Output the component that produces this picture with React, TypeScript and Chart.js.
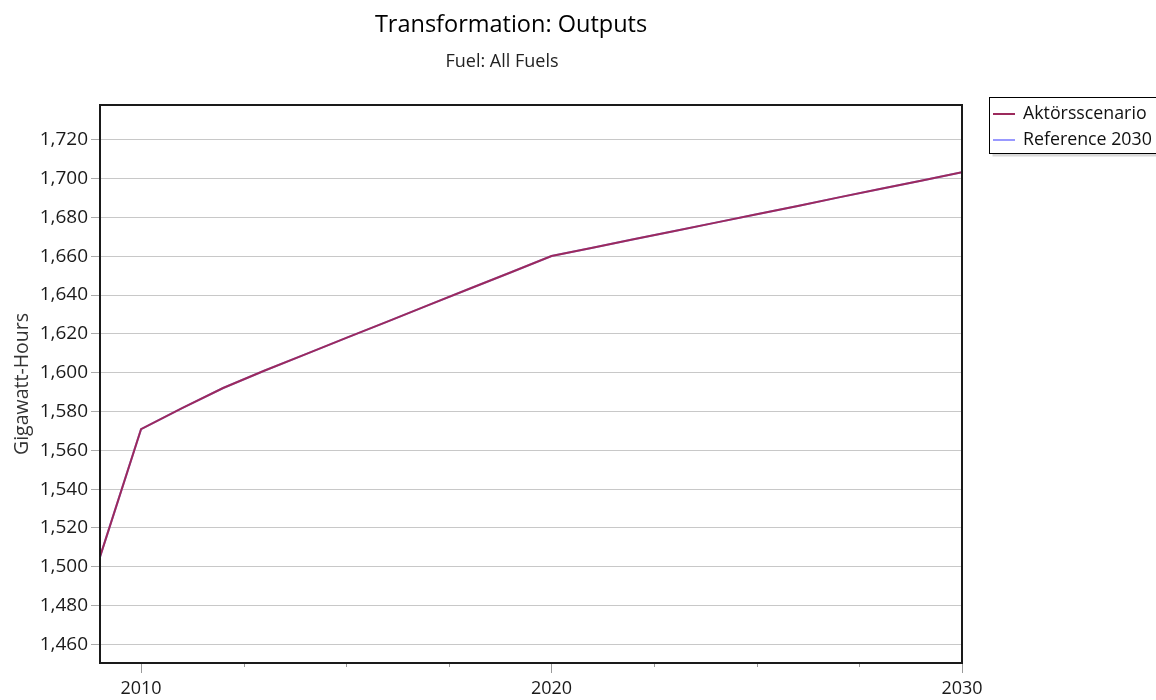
import { useEffect, useRef } from "react";
import { Chart, registerables } from "chart.js";

Chart.register(...registerables);

const years = [2009, 2010, 2011, 2012, 2013, 2014, 2015, 2016, 2017, 2018, 2019, 2020, 2021, 2022, 2023, 2024, 2025, 2026, 2027, 2028, 2029, 2030];
const aktorsscenario = [1505.1, 1570.9, 1581.7, 1592.1, 1601.0, 1609.4, 1617.9, 1626.3, 1634.8, 1643.2, 1651.6, 1660.1, 1664.4, 1668.7, 1673.0, 1677.3, 1681.6, 1685.9, 1690.3, 1694.6, 1698.9, 1703.2];
const reference2030 = [1505.1, 1570.9, 1581.7, 1592.1, 1601.0, 1609.4, 1617.9, 1626.3, 1634.8, 1643.2, 1651.6, 1660.1, 1664.4, 1668.7, 1673.0, 1677.3, 1681.6, 1685.9, 1690.3, 1694.6, 1698.9, 1703.2];
const yTickValues = [1460, 1480, 1500, 1520, 1540, 1560, 1580, 1600, 1620, 1640, 1660, 1680, 1700, 1720];
const xMajorTicks = [2010, 2020, 2030];
const xMinorTicks = [2012.5, 2015, 2017.5, 2022.5, 2025, 2027.5];
const seriesNames = ["Aktörsscenario", "Reference 2030"];
const seriesColors = ["#9c2a5c", "#9999ff"];

const titleText = "Transformation: Outputs";
const subtitleText = "Fuel: All Fuels";
const yAxisTitle = "Gigawatt-Hours";

const FONT = "'Open Sans', sans-serif";

const decorPlugin = {
  id: "decor",
  afterDraw(chart: any) {
    const ctx = chart.ctx as CanvasRenderingContext2D;
    const area = chart.chartArea;
    ctx.save();
    // frame
    ctx.strokeStyle = "#1a1a1a";
    ctx.lineWidth = 2;
    ctx.strokeRect(area.left, area.top, area.right - area.left, area.bottom - area.top);
    // minor ticks on x axis
    const xs = chart.scales.x;
    ctx.strokeStyle = "#999999";
    ctx.lineWidth = 1;
    xMinorTicks.forEach((v) => {
      const px = Math.round(xs.getPixelForValue(v)) + 0.5;
      ctx.beginPath();
      ctx.moveTo(px, area.bottom + 1);
      ctx.lineTo(px, area.bottom + 4);
      ctx.stroke();
    });
    // titles
    ctx.fillStyle = "#000000";
    ctx.textAlign = "center";
    ctx.textBaseline = "alphabetic";
    ctx.font = `23.5px ${FONT}`;
    ctx.fillText(titleText, 511, 32);
    ctx.font = `18px ${FONT}`;
    ctx.fillStyle = "#222222";
    ctx.fillText(subtitleText, 502, 67);
    // y axis title
    ctx.save();
    ctx.translate(22, (area.top + area.bottom) / 2);
    ctx.rotate(-Math.PI / 2);
    ctx.font = `19.5px ${FONT}`;
    ctx.fillStyle = "#333333";
    ctx.textBaseline = "middle";
    ctx.fillText(yAxisTitle, 0, 0);
    ctx.restore();
    // legend
    const lx = 989.5, ly = 97.5, lw = 180, lh = 56;
    ctx.fillStyle = "#d8d8d8";
    ctx.fillRect(lx + 3, ly + 3, lw, lh);
    ctx.fillStyle = "#ffffff";
    ctx.fillRect(lx, ly, lw, lh);
    ctx.strokeStyle = "#000000";
    ctx.lineWidth = 1;
    ctx.strokeRect(lx, ly, lw, lh);
    ctx.font = `17.8px ${FONT}`;
    ctx.textAlign = "left";
    ctx.textBaseline = "middle";
    chart.data.datasets.forEach((ds: any, i: number) => {
      const y = 114 + i * 26;
      ctx.strokeStyle = ds.borderColor;
      ctx.lineWidth = 2;
      ctx.beginPath();
      ctx.moveTo(993, y);
      ctx.lineTo(1015, y);
      ctx.stroke();
      ctx.fillStyle = "#111111";
      ctx.fillText(ds.label, 1023, y);
    });
    ctx.restore();
  },
};

export default function App() {
  const ref = useRef<HTMLCanvasElement | null>(null);
  useEffect(() => {
    document.body.style.margin = "0";
    const canvas = ref.current;
    if (!canvas) return;
    const chart = new Chart(canvas, {
      type: "line",
      data: {
        datasets: [
          {
            label: seriesNames[0],
            data: years.map((y, i) => ({ x: y, y: aktorsscenario[i] })),
            borderColor: seriesColors[0],
            borderWidth: 2,
            pointRadius: 0,
            tension: 0,
          },
          {
            label: seriesNames[1],
            data: years.map((y, i) => ({ x: y, y: reference2030[i] })),
            borderColor: seriesColors[1],
            borderWidth: 2,
            pointRadius: 0,
            tension: 0,
          },
        ],
      },
      options: {
        responsive: false,
        animation: false,
        layout: { padding: { top: 105, right: 194, bottom: 0, left: 0 } },
        plugins: {
          legend: { display: false },
          title: { display: false },
          tooltip: { enabled: false },
        },
        scales: {
          x: {
            type: "linear",
            min: 2009,
            max: 2030,
            afterBuildTicks: (s: any) => {
              s.ticks = xMajorTicks.map((v) => ({ value: v }));
            },
            afterFit: (s: any) => {
              s.height = 37;
            },
            grid: {
              drawOnChartArea: false,
              drawTicks: true,
              tickLength: 10,
              tickColor: "#999999",
              color: "#999999",
            },
            border: { display: false },
            ticks: {
              color: "#1a1a1a",
              font: { family: FONT, size: 18 },
              padding: 5,
              maxRotation: 0,
              autoSkip: false,
              callback: (v: any) => String(v),
            },
          },
          y: {
            type: "linear",
            min: 1450.4,
            max: 1737.9,
            afterBuildTicks: (s: any) => {
              s.ticks = yTickValues.map((v) => ({ value: v }));
            },
            afterFit: (s: any) => {
              s.width = 100;
            },
            grid: {
              color: "#c8c8c8",
              tickColor: "#aaaaaa",
              tickLength: 9,
              lineWidth: 1,
            },
            border: { display: false },
            ticks: {
              color: "#1a1a1a",
              font: { family: FONT, size: 19 },
              padding: 3,
              autoSkip: false,
              callback: (v: any) => Number(v).toLocaleString("en-US"),
            },
          },
        },
      },
      plugins: [decorPlugin],
    });
    return () => chart.destroy();
  }, []);
  return <canvas ref={ref} width={1156} height={700} style={{ display: "block" }} />;
}
